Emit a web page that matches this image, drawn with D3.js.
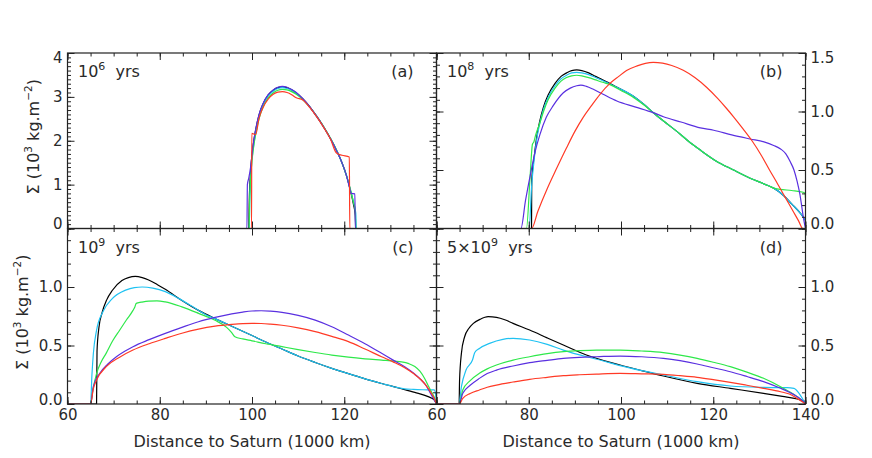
<!DOCTYPE html>
<html lang="en">
<head>
<meta charset="UTF-8">
<title>Surface density profiles</title>
<script src="https://cdn.jsdelivr.net/npm/d3@7"></script>
<style>
    *{margin:0;padding:0}
    body{background:#fff}
    svg text{font-family:"DejaVu Sans",sans-serif;fill:#2a2a2a}
    .ax text{font-size:15px}
    .ax line{stroke:#222;stroke-width:1}
    .frame{fill:none;stroke:#222;stroke-width:1.2}
    .curve{fill:none;stroke-width:1.2;stroke-linejoin:round}
    .lab{font-size:16px}
</style>
</head>
<body>
<div id="chart"></div>
<script>
// ---- data (Sigma in 10^3 kg/m^2 vs distance in 1000 km) ----
var xMajor = [60, 80, 100, 120, 140];
var colors = ["#000000", "#1fc2f2", "#2ee84a", "#5a30e0", "#ff3a26"];   // black, cyan, green, blue, red
var ageLabels = [["10", "6"], ["10", "8"], ["10", "9"], ["5\u00d710", "9"]];
var tags = ["(a)", "(b)", "(c)", "(d)"];

// (a) 10^6 yrs
var a_black = [[60,0],[99.3,0],[99.4,0.6],[99.7,1.3],[100.2,1.85],[100.8,2.25],[101.5,2.58],[102.4,2.84],[103.5,3.04],[104.6,3.15],[105.6,3.21],[106.6,3.23],[107.6,3.21],[108.6,3.16],[109.6,3.09],[111,2.96],[112.5,2.78],[114,2.56],[115.5,2.32],[117,2.05],[118.5,1.74],[119.5,1.5],[120.5,1.2],[121.3,0.88],[122,0.55],[122.4,0.3],[122.5,0],[140,0]];
var a_cyan = [[60,0],[99.4,0],[99.5,0.6],[99.8,1.3],[100.3,1.85],[100.9,2.24],[101.6,2.57],[102.5,2.83],[103.5,3.02],[104.6,3.13],[105.6,3.19],[106.6,3.21],[107.6,3.19],[108.6,3.15],[109.6,3.08],[111,2.95],[112.5,2.77],[114,2.56],[115.5,2.32],[117,2.05],[118.5,1.74],[119.5,1.5],[120.5,1.2],[121.3,0.9],[122,0.6],[122.5,0.35],[122.6,0],[140,0]];
var a_green = [[60,0],[99.4,0],[99.5,0.6],[99.8,1.28],[100.3,1.82],[100.9,2.2],[101.6,2.53],[102.5,2.79],[103.5,2.98],[104.6,3.09],[105.6,3.15],[106.6,3.17],[107.6,3.16],[108.6,3.12],[109.6,3.06],[111,2.94],[112.5,2.77],[114,2.56],[115.5,2.33],[117,2.06],[118.5,1.75],[119.5,1.5],[120.5,1.2],[121.3,0.9],[122,0.6],[122.4,0.4],[122.5,0],[140,0]];
var a_blue = [[60,0],[98.9,0],[99.0,1.0],[99.3,1.15],[99.7,1.4],[100.2,1.87],[100.8,2.26],[101.5,2.59],[102.4,2.85],[103.5,3.05],[104.6,3.16],[105.6,3.22],[106.6,3.24],[107.6,3.22],[108.6,3.17],[109.6,3.1],[111,2.96],[112.5,2.78],[114,2.56],[115.5,2.32],[117,2.05],[118.5,1.74],[119.5,1.5],[120.5,1.2],[121.1,0.95],[121.5,0.8],[122.3,0.79],[122.4,0],[140,0]];
var a_red = [[60,0],[99.9,0],[99.95,2.17],[100.8,2.14],[101.5,2.5],[102.4,2.76],[103.5,2.95],[104.6,3.06],[105.6,3.11],[106.6,3.12],[107.6,3.1],[108.6,3.05],[109.6,2.98],[111,2.93],[112.5,2.76],[114,2.55],[115.5,2.31],[117,2.04],[118.3,1.72],[119.5,1.67],[121.1,1.63],[121.2,0],[140,0]];

// (b) 10^8 yrs
var b_black = [[60,0],[80.6,0],[80.65,0.41],[81.2,0.62],[81.8,0.8],[82.4,0.92],[83.2,1.04],[84.2,1.14],[85.7,1.24],[87,1.3],[88.2,1.33],[89.3,1.35],[90.4,1.355],[91.5,1.35],[93,1.33],[94.5,1.3],[96,1.27],[97.6,1.24],[100,1.19],[102.7,1.13],[105,1.06],[107,0.99],[109.5,0.91],[112.1,0.83],[114.5,0.75],[117.2,0.67],[120.5,0.58],[124.4,0.5],[128,0.43],[131.7,0.37],[133.1,0.345],[135.3,0.28],[137,0.21],[139,0.125],[140,0.07]];
var b_cyan = [[60,0],[80.1,0],[80.6,0.35],[81.2,0.6],[81.8,0.78],[82.4,0.9],[83.2,1.02],[84.2,1.12],[85.7,1.22],[87,1.28],[88.2,1.31],[89.3,1.33],[90.4,1.335],[91.5,1.33],[93,1.315],[94.5,1.29],[96,1.265],[97.6,1.235],[100,1.19],[102.7,1.13],[105,1.06],[107,0.99],[109.5,0.91],[112.1,0.83],[114.5,0.75],[117.2,0.67],[120.5,0.58],[124.4,0.5],[128,0.43],[131.7,0.37],[133.1,0.345],[135.3,0.28],[137,0.21],[139,0.125],[140,0.07]];
var b_green = [[60,0],[79.5,0],[80.3,0.45],[80.8,0.72],[81.1,0.74],[81.5,0.8],[82.4,0.9],[83.2,1.0],[84.2,1.1],[85.7,1.2],[87,1.26],[88.2,1.29],[89.3,1.305],[90.4,1.31],[91.5,1.305],[93,1.29],[94.5,1.27],[96,1.25],[97.6,1.23],[100,1.18],[102.7,1.12],[105,1.055],[107,0.99],[109.5,0.91],[112.1,0.83],[114.5,0.75],[117.2,0.67],[120.5,0.58],[124.4,0.5],[128,0.43],[131.7,0.37],[133.1,0.345],[134.5,0.335],[137,0.325],[139.5,0.31],[139.9,0.3],[140,0.26]];
var b_blue = [[60,0],[78.3,0],[79.3,0.24],[80.4,0.47],[81.4,0.66],[82.4,0.8],[83.8,0.95],[85.3,1.05],[87.5,1.16],[89,1.2],[90.4,1.22],[91.3,1.225],[92.5,1.215],[94,1.19],[96,1.15],[99.1,1.09],[103,1.04],[107,0.99],[109.2,0.955],[113,0.91],[117.2,0.86],[120.1,0.84],[124,0.8],[128,0.765],[131,0.74],[133.1,0.71],[134.6,0.68],[135.7,0.64],[136.7,0.57],[137.5,0.5],[138.2,0.4],[138.8,0.29],[139.2,0.185],[139.6,0.08],[140,0]];
var b_red = [[60,0],[80.6,0],[82,0.15],[84,0.34],[86,0.51],[88.2,0.69],[90,0.83],[91.8,0.95],[93.6,1.05],[95.4,1.145],[97.6,1.24],[99.5,1.3],[101.2,1.35],[103.5,1.39],[105.3,1.412],[107,1.42],[109,1.413],[111,1.393],[113.5,1.352],[116,1.29],[118.6,1.205],[121,1.11],[122.8,1.03],[124.4,0.955],[126.5,0.85],[128.4,0.75],[130.5,0.62],[132.2,0.5],[133.9,0.385],[135.7,0.26],[137.5,0.135],[138.5,0.065],[139.4,0],[140,0]];

// (c) 10^9 yrs
var c_black = [[60,0],[66.3,0],[66.4,0.45],[66.8,0.65],[67.5,0.78],[68.5,0.89],[69.7,0.97],[71.8,1.055],[73.2,1.08],[74.7,1.09],[76.2,1.08],[77.6,1.06],[79.5,1.02],[81.2,0.98],[84.8,0.885],[88.4,0.8],[92,0.73],[95.6,0.665],[100,0.585],[103,0.53],[106.5,0.47],[110,0.41],[113.7,0.355],[117.3,0.305],[120.9,0.26],[124.5,0.215],[128.1,0.175],[132,0.135],[135.3,0.1],[138.2,0.063],[139.5,0.035],[140,0]];
var c_cyan = [[60,0],[65,0],[65.3,0.25],[65.6,0.43],[66.3,0.63],[67.7,0.79],[69.7,0.9],[72.6,0.973],[74.5,0.995],[76.2,1.0],[78.5,0.99],[81.2,0.96],[84,0.905],[87,0.835],[89.9,0.765],[92,0.73],[95.6,0.665],[100,0.585],[103,0.53],[106.5,0.47],[110,0.41],[113.7,0.355],[117.3,0.305],[120.9,0.26],[124.5,0.215],[128.1,0.175],[131,0.145],[133,0.13],[135,0.125],[137,0.122],[139.5,0.12],[139.9,0.06],[140,0.02]];
var c_green = [[60,0],[65,0],[65.5,0.12],[66.3,0.26],[67.3,0.36],[68.4,0.435],[69.8,0.54],[71.3,0.63],[72.8,0.72],[74.2,0.8],[74.6,0.83],[74.9,0.86],[76,0.87],[77.6,0.88],[79.4,0.882],[81.2,0.873],[84.8,0.83],[88.4,0.775],[92,0.715],[94.5,0.655],[95.6,0.61],[96.3,0.575],[98,0.556],[100,0.54],[103,0.515],[106.5,0.49],[110,0.465],[113.7,0.44],[117.3,0.418],[120.9,0.4],[124.5,0.386],[128.1,0.375],[131,0.366],[132.4,0.36],[134,0.345],[135.3,0.32],[136.4,0.28],[137.4,0.22],[138.3,0.15],[138.9,0.105],[139.6,0.05],[140,0]];
var c_blue = [[60,0],[65,0],[65.6,0.148],[67,0.262],[68.7,0.34],[70.6,0.404],[72.4,0.45],[74.2,0.49],[77.7,0.55],[81.2,0.604],[84.8,0.655],[88.4,0.703],[92,0.74],[95.6,0.77],[98,0.786],[100,0.795],[102,0.797],[104,0.793],[106.5,0.783],[110,0.757],[113.7,0.717],[117.3,0.66],[120.9,0.589],[124.5,0.515],[128.1,0.433],[130.6,0.375],[133.1,0.319],[135,0.265],[136.7,0.205],[137.7,0.16],[138.5,0.105],[139.3,0.05],[140,0]];
var c_red = [[60,0],[65,0],[65.6,0.13],[66.3,0.205],[68.4,0.319],[71.3,0.4],[74.2,0.461],[77.7,0.515],[81.2,0.561],[84.8,0.605],[88.4,0.64],[92,0.665],[95.6,0.68],[98,0.687],[100,0.689],[102,0.688],[104,0.683],[106.5,0.673],[110,0.65],[113.7,0.618],[117.3,0.578],[120.9,0.533],[124.5,0.47],[128.1,0.404],[130.6,0.36],[133.1,0.31],[135,0.26],[136.7,0.205],[137.9,0.15],[138.9,0.091],[139.5,0.05],[140,0]];

// (d) 5x10^9 yrs
var d_black = [[60,0],[64.9,0],[65,0.2],[65.4,0.433],[66.1,0.575],[67,0.645],[68,0.689],[69.5,0.725],[71.2,0.746],[73,0.74],[74.8,0.72],[76.6,0.689],[80.2,0.632],[84,0.565],[87.5,0.504],[92.5,0.419],[99.8,0.333],[104.5,0.285],[109.2,0.239],[116.5,0.177],[123.7,0.134],[130.9,0.091],[135,0.065],[138.2,0.043],[140,0.02]];
var d_cyan = [[60,0],[64.9,0],[65.4,0.148],[66.4,0.29],[67.8,0.376],[68.3,0.44],[69.3,0.475],[71.5,0.518],[74.4,0.552],[76.6,0.561],[80.2,0.547],[84,0.51],[87.5,0.461],[92.5,0.404],[96,0.37],[99.8,0.328],[104.5,0.285],[109.2,0.248],[116.5,0.191],[123.7,0.154],[130.9,0.142],[134,0.14],[136,0.14],[137.5,0.134],[138.6,0.091],[140,0]];
var d_green = [[60,0],[64.9,0],[65.7,0.12],[67.3,0.2],[69.3,0.262],[71,0.3],[73,0.333],[76.6,0.375],[80.2,0.404],[84,0.43],[87.5,0.447],[91,0.456],[94.7,0.461],[99.8,0.461],[104.5,0.453],[109.2,0.439],[112.8,0.418],[116.5,0.39],[120,0.357],[123.7,0.319],[127.3,0.272],[130.9,0.22],[134.6,0.148],[136.5,0.105],[138.2,0.063],[139.3,0.03],[140,0]];
var d_blue = [[60,0],[64.9,0],[65.7,0.091],[67.3,0.16],[69.3,0.219],[71,0.26],[73,0.29],[76.6,0.325],[80.2,0.353],[84,0.373],[87.5,0.39],[91,0.399],[94.7,0.404],[99.8,0.41],[104.5,0.404],[109.2,0.39],[112.8,0.37],[116.5,0.342],[120,0.31],[123.7,0.276],[127.3,0.235],[130.9,0.191],[134.6,0.134],[136.5,0.1],[138.2,0.063],[139.3,0.03],[140,0]];
var d_red = [[60,0],[64.9,0],[65.7,0.048],[67.3,0.09],[69.3,0.12],[71,0.143],[73,0.162],[76.6,0.188],[80.2,0.211],[84,0.228],[87.5,0.242],[91,0.25],[94.7,0.256],[99.8,0.262],[104.5,0.258],[109.2,0.253],[112.8,0.242],[116.5,0.228],[120,0.208],[123.7,0.185],[127.3,0.16],[130.9,0.134],[134.6,0.105],[136.5,0.085],[138.2,0.048],[139.3,0.02],[140,0]];

// ---- layout ----
var W = 369, H = 175.5;
var panels = [
    {left:67.5,  top:53,    yMax:4,   yLab:[0,1,2,3,4],   fmt:d3.format("d"),   side:"left",  xLab:null,                series:[a_black,a_cyan,a_green,a_blue,a_red]},
    {left:436.5, top:53,    yMax:1.5, yLab:[0,0.5,1,1.5], fmt:d3.format(".1f"), side:"right", xLab:null,                series:[b_black,b_cyan,b_green,b_blue,b_red]},
    {left:67.5,  top:228.5, yMax:1.5, yLab:[0,0.5,1],     fmt:d3.format(".1f"), side:"left",  xLab:[60,80,100,120],     series:[c_black,c_cyan,c_green,c_blue,c_red]},
    {left:436.5, top:228.5, yMax:1.5, yLab:[0,0.5,1],     fmt:d3.format(".1f"), side:"right", xLab:[60,80,100,120,140], series:[d_black,d_cyan,d_green,d_blue,d_red]}
];

var svg = d3.select("#chart").append("svg").attr("width", 872).attr("height", 458);

function addAxis(g, axis, tx, ty) {
    return g.append("g").attr("class", "ax")
        .attr("transform", "translate(" + tx + "," + ty + ")")
        .call(axis)
        .attr("font-size", null).attr("font-family", null)
        .call(function (s) { s.select(".domain").remove(); });
}

panels.forEach(function (p, i) {
    var x = d3.scaleLinear().domain([60, 140]).range([p.left, p.left + W]);
    var y = d3.scaleLinear().domain([0, p.yMax]).range([p.top + H, p.top]);
    var g = svg.append("g");

    var clipId = "clip" + i;
    svg.append("clipPath").attr("id", clipId).append("rect")
        .attr("x", p.left).attr("y", p.top - 1).attr("width", W).attr("height", H + 1);

    var line = d3.line().x(function (d) { return x(d[0]); }).y(function (d) { return y(d[1]); })
        .curve(d3.curveMonotoneX);
    g.append("g").attr("clip-path", "url(#" + clipId + ")")
        .selectAll("path").data(p.series).enter().append("path")
        .attr("class", "curve")
        .attr("stroke", function (d, k) { return colors[k]; })
        .attr("d", line);

    // ticks, inward on all four sides
    var xMinor = d3.range(60, 141, 5);
    var yMinor = d3.range(0, Math.round(p.yMax * 10) + 1).map(function (k) { return k / 10; });
    var yMajor = d3.range(0, Math.round(p.yMax / p.yLab[1]) + 1).map(function (k) { return k * p.yLab[1]; });

    addAxis(g, d3.axisBottom(x).tickValues(xMinor).tickSize(-3.5).tickFormat(""), 0, p.top + H);
    addAxis(g, d3.axisTop(x).tickValues(xMinor).tickSize(-3.5).tickFormat(""), 0, p.top);
    addAxis(g, d3.axisTop(x).tickValues(xMajor).tickSize(-7).tickFormat(""), 0, p.top);
    addAxis(g, d3.axisBottom(x).tickValues(xMajor).tickSize(-7).tickPadding(5)
        .tickFormat(function (d) { return p.xLab && p.xLab.indexOf(d) >= 0 ? d : ""; }), 0, p.top + H);

    addAxis(g, d3.axisLeft(y).tickValues(yMinor).tickSize(-3.5).tickFormat(""), p.left, 0);
    addAxis(g, d3.axisRight(y).tickValues(yMinor).tickSize(-3.5).tickFormat(""), p.left + W, 0);
    var yl = addAxis(g, d3.axisLeft(y).tickValues(yMajor).tickSize(-7).tickPadding(5)
        .tickFormat(function (d) { return p.side === "left" && p.yLab.indexOf(d) >= 0 ? p.fmt(d) : ""; }), p.left, 0);
    var yr = addAxis(g, d3.axisRight(y).tickValues(yMajor).tickSize(-7).tickPadding(5)
        .tickFormat(function (d) { return p.side === "right" && p.yLab.indexOf(d) >= 0 ? p.fmt(d) : ""; }), p.left + W, 0);
    // labels at the ends sit a little inside the frame
    [yl, yr].forEach(function (a) {
        a.selectAll("text").attr("y", function (d) { return d === 0 ? -4.5 : (d === p.yMax ? 5 : 0); });
    });

    g.append("rect").attr("class", "frame")
        .attr("x", p.left).attr("y", p.top).attr("width", W).attr("height", H);

    // age label and panel tag
    var base = p.top + 24;
    var t = g.append("text").attr("class", "lab").attr("x", p.left + 10.5).attr("y", base);
    t.append("tspan").text(ageLabels[i][0]);
    t.append("tspan").attr("dy", -7).attr("font-size", 11).text(ageLabels[i][1]);
    t.append("tspan").attr("dy", 7).text("\u00a0 yrs");
    g.append("text").attr("class", "lab").attr("x", p.left + W - 23).attr("y", base)
        .attr("text-anchor", "end").text(tags[i]);

    // axis titles
    if (p.side === "left") {
        var cx = i === 0 ? 39 : 28;
        var yt = g.append("text").attr("class", "lab").attr("font-size", 15)
            .attr("transform", "translate(" + cx + "," + (p.top + H / 2 - 4) + ") rotate(-90)");
        yt.append("tspan").text("\u03a3 (10");
        yt.append("tspan").attr("dy", -7).attr("font-size", 10.5).text("3");
        yt.append("tspan").attr("dy", 7).text(" kg.m");
        yt.append("tspan").attr("dy", -7).attr("font-size", 10.5).text("\u22122");
        yt.append("tspan").attr("dy", 7).text(")");
        yt.attr("x", -yt.node().getComputedTextLength() / 2);
    }
    if (p.xLab) {
        g.append("text").attr("class", "lab").attr("text-anchor", "middle")
            .attr("x", p.left + W / 2).attr("y", 447).attr("font-size", 16.5)
            .text("Distance to Saturn (1000 km)");
    }
});
</script>
</body>
</html>
